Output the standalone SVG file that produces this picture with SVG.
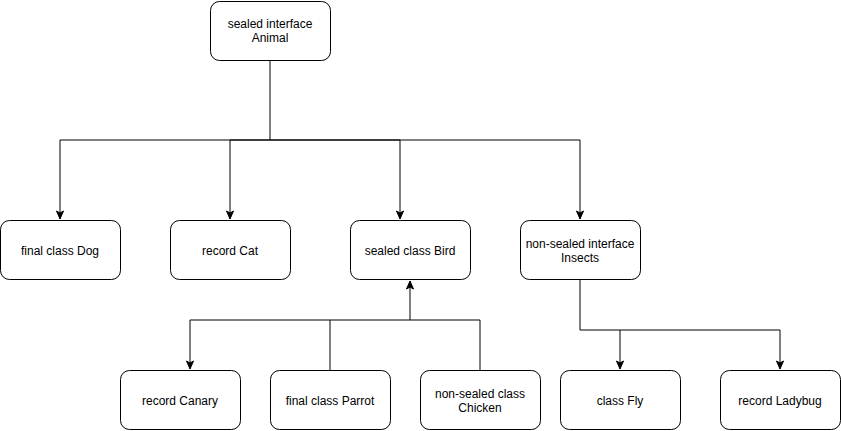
<svg xmlns="http://www.w3.org/2000/svg" width="841" height="431" viewBox="0 0 841 431">
<style>
.n rect{fill:#fff;stroke:#000;stroke-width:1}
.n text{font-family:"Liberation Sans",Arial,sans-serif;font-size:12px;fill:#000;text-anchor:middle}
.c path{fill:none;stroke:#000;stroke-width:1}
</style>
<defs>
<marker id="a" markerUnits="userSpaceOnUse" markerWidth="10" markerHeight="10" viewBox="0 0 10 10" refX="9" refY="5" orient="auto">
<path d="M1,1.5 L9,5 L1,8.5 L3,5 Z" fill="#000" stroke="#000" stroke-width="1"/>
</marker>
</defs>
<rect width="841" height="431" fill="#fff"/>
<g id="connectors" class="c">
<path d="M270,61 V140 H60 V219" marker-end="url(#a)"/>
<path d="M270,140 H230 V219" marker-end="url(#a)"/>
<path d="M270,140 H400 V219" marker-end="url(#a)"/>
<path d="M270,140 H580 V219" marker-end="url(#a)"/>
<path d="M330,370 V320 H190 V369" marker-end="url(#a)"/>
<path d="M480,370 V320 H410 V281" marker-end="url(#a)"/>
<path d="M330,320 H410"/>
<path d="M580,280 V330 H620 V369" marker-end="url(#a)"/>
<path d="M620,330 H780 V369" marker-end="url(#a)"/>
</g>
<g id="animal" class="n"><rect x="210.5" y="1.5" width="120" height="59" rx="9"/><text x="270" y="28">sealed interface</text><text x="270" y="42">Animal</text></g>
<g id="dog" class="n"><rect x="0.5" y="220.5" width="120" height="59" rx="9"/><text x="60" y="255">final class Dog</text></g>
<g id="cat" class="n"><rect x="170.5" y="220.5" width="120" height="59" rx="9"/><text x="230" y="255">record Cat</text></g>
<g id="bird" class="n"><rect x="350.5" y="220.5" width="120" height="59" rx="9"/><text x="410" y="255">sealed class Bird</text></g>
<g id="insects" class="n"><rect x="520.5" y="220.5" width="120" height="59" rx="9"/><text x="580" y="248">non-sealed interface</text><text x="580" y="262">Insects</text></g>
<g id="canary" class="n"><rect x="120.5" y="370.5" width="120" height="59" rx="9"/><text x="180" y="405">record Canary</text></g>
<g id="parrot" class="n"><rect x="270.5" y="370.5" width="120" height="59" rx="9"/><text x="330" y="405">final class Parrot</text></g>
<g id="chicken" class="n"><rect x="420.5" y="370.5" width="120" height="59" rx="9"/><text x="480" y="398">non-sealed class</text><text x="480" y="412">Chicken</text></g>
<g id="fly" class="n"><rect x="560.5" y="370.5" width="120" height="59" rx="9"/><text x="620" y="405">class Fly</text></g>
<g id="ladybug" class="n"><rect x="720.5" y="370.5" width="120" height="59" rx="9"/><text x="780" y="405">record Ladybug</text></g>
</svg>
